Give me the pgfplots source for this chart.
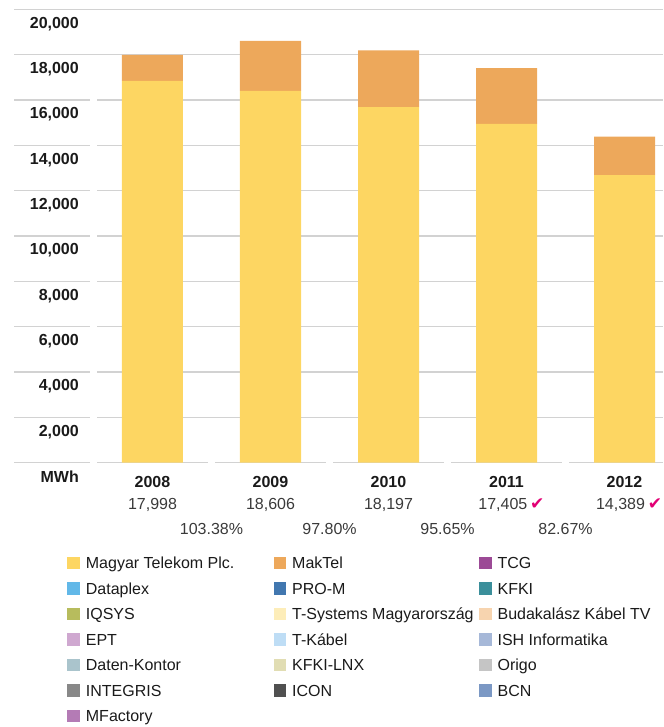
\documentclass[border=0pt]{standalone}
\usepackage{fontspec}
\setmainfont{Liberation Sans}
\newfontfamily\dejavu{DejaVu Sans}
\usepackage{pgfplots}
\usepackage{pgfplotstable}
\pgfplotsset{compat=1.18}

\definecolor{mtyellow}{HTML}{FDD662}
\definecolor{maktel}{HTML}{EDA85B}
\definecolor{gridgray}{HTML}{D2D2D2}
\definecolor{tmagenta}{HTML}{E20074}
\definecolor{txtdark}{HTML}{1A1A1A}
\definecolor{txtgray}{HTML}{3A3A3A}

\pgfplotstableread{
x year magyar maktel
0 2008 16850 1148
1 2009 16400 2206
2 2010 15690 2507
3 2011 14945 2460
4 2012 12690 1699
}\energytable

\newcommand{\sz}{\fontsize{16}{19}\selectfont}

\begin{document}
\begin{tikzpicture}
\useasboundingbox (0pt,0pt) rectangle (663pt,727pt);
\begin{axis}[
  at={(14pt,264.3pt)}, anchor=south west,
  scale only axis,
  width=649pt, height=453.3pt,
  ybar stacked,
  bar width=61pt,
  xmin=-1.1737, xmax=4.3263,
  ymin=0, ymax=20000,
  enlargelimits=false,
  clip=false,
  scaled y ticks=false,
  axis line style={draw=none},
  tick style={draw=none},
  major tick length=0pt,
  ymajorgrids,
  grid style={color=gridgray, line width=1.5pt},
  ytick={0,2000,...,20000},
  yticklabels={MWh,{2,000},{4,000},{6,000},{8,000},{10,000},{12,000},{14,000},{16,000},{18,000},{20,000}},
  yticklabel style={font=\sz\bfseries, text=txtdark, anchor=east, inner sep=0pt, xshift=65pt, yshift=-14.5pt},
  xtick={0,...,4},
  xticklabels={2008,2009,2010,2011,2012},
  xticklabel style={font=\sz\bfseries, text=txtdark, anchor=center, inner sep=0pt, yshift=-19pt},
]
\addplot[fill=mtyellow, draw=none] table[x=x, y=magyar] {\energytable};
\addplot[fill=maktel, draw=none] table[x=x, y=maktel] {\energytable};

% gaps in the grid lines
\fill[white] (axis cs:-0.5297,-300) rectangle (axis cs:-0.4703,17000);
\fill[white] (axis cs:0.4703,-300) rectangle (axis cs:0.5297,300);
\fill[white] (axis cs:1.4703,-300) rectangle (axis cs:1.5297,300);
\fill[white] (axis cs:2.4703,-300) rectangle (axis cs:2.5297,300);
\fill[white] (axis cs:3.4703,-300) rectangle (axis cs:3.5297,300);

% totals
\node[font=\sz, text=txtgray, anchor=base] at (axis cs:0,-2043) {17,998};
\node[font=\sz, text=txtgray, anchor=base] at (axis cs:1,-2043) {18,606};
\node[font=\sz, text=txtgray, anchor=base] at (axis cs:2,-2043) {18,197};
\node[font=\sz, text=txtgray, anchor=base, inner sep=0pt] (v11) at (axis cs:2.969,-2043) {17,405};
\node[font=\sz, text=txtgray, anchor=base, inner sep=0pt] (v12) at (axis cs:3.966,-2043) {14,389};

% year-on-year ratios
\node[font=\sz, text=txtgray, anchor=base] at (axis cs:0.5,-3146) {103.38\%};
\node[font=\sz, text=txtgray, anchor=base] at (axis cs:1.5,-3146) {97.80\%};
\node[font=\sz, text=txtgray, anchor=base] at (axis cs:2.5,-3146) {95.65\%};
\node[font=\sz, text=txtgray, anchor=base] at (axis cs:3.5,-3146) {82.67\%};
\end{axis}

\node[font=\dejavu\fontsize{17}{20}\selectfont, text=tmagenta, anchor=base west, inner sep=0pt] at ([xshift=2.5pt]v11.base east) {✔};
\node[font=\dejavu\fontsize{17}{20}\selectfont, text=tmagenta, anchor=base west, inner sep=0pt] at ([xshift=2.5pt]v12.base east) {✔};

% legend
\definecolor{c01}{HTML}{FDD662}\definecolor{c02}{HTML}{EDA85B}\definecolor{c03}{HTML}{9C4A96}
\definecolor{c04}{HTML}{62B8E8}\definecolor{c05}{HTML}{4177AF}\definecolor{c06}{HTML}{3B8F9B}
\definecolor{c07}{HTML}{B7BC5D}\definecolor{c08}{HTML}{FDEDB9}\definecolor{c09}{HTML}{F7D4AF}
\definecolor{c10}{HTML}{CFA8D0}\definecolor{c11}{HTML}{BEDDF5}\definecolor{c12}{HTML}{A6B8D8}
\definecolor{c13}{HTML}{AAC4CC}\definecolor{c14}{HTML}{E1DDB3}\definecolor{c15}{HTML}{C5C5C5}
\definecolor{c16}{HTML}{888888}\definecolor{c17}{HTML}{505050}\definecolor{c18}{HTML}{7B98C4}
\definecolor{c19}{HTML}{B47BB5}
\foreach \c/\r/\col/\lab in {
  0/0/c01/{Magyar Telekom Plc.}, 1/0/c02/MakTel, 2/0/c03/TCG,
  0/1/c04/Dataplex, 1/1/c05/PRO-M, 2/1/c06/KFKI,
  0/2/c07/IQSYS, 1/2/c08/{T-Systems Magyarország}, 2/2/c09/{Budakalász Kábel TV},
  0/3/c10/EPT, 1/3/c11/T-Kábel, 2/3/c12/{ISH Informatika},
  0/4/c13/Daten-Kontor, 1/4/c14/KFKI-LNX, 2/4/c15/Origo,
  0/5/c16/INTEGRIS, 1/5/c17/ICON, 2/5/c18/BCN,
  0/6/c19/MFactory} {
  \pgfmathsetmacro{\sx}{\c==0 ? 67.3 : (\c==1 ? 273.6 : 479)}
  \pgfmathsetmacro{\yc}{727-563.1-25.5*\r}
  \fill[\col] (\sx pt,\yc pt-6.35pt) rectangle (\sx pt+12.7pt,\yc pt+6.35pt);
  \node[font=\sz, text=txtdark, anchor=base west, inner sep=0pt] at (\sx pt+18.4pt,\yc pt-5.8pt) {\lab};
}
\end{tikzpicture}
\end{document}
